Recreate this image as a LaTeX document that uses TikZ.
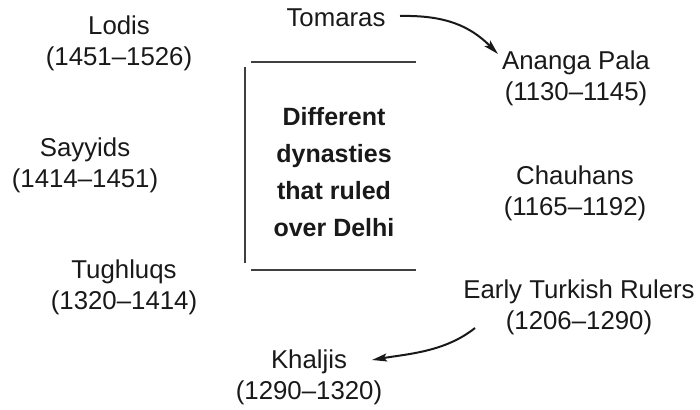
\documentclass[tikz,border=0pt]{standalone}
\usepackage{fontspec}
\setmainfont{Liberation Sans}
\usetikzlibrary{arrows.meta}
\begin{document}
\begin{tikzpicture}[x=1pt,y=-1pt,
  lbl/.style={align=center,inner sep=0pt,font=\fontsize{25.8}{31}\selectfont,text=black!90},
  title/.style={align=center,inner sep=0pt,font=\bfseries\fontsize{25}{37}\selectfont,text=black!90},
  rule/.style={line width=2.4pt,draw=black!75},
  arr/.style={line width=2pt,draw=black!90,-{Stealth[length=15pt,width=8pt,inset=3pt]}}]
\useasboundingbox (0,0) rectangle (700,409);
% dynasty labels round the centre
\node[lbl] (lodis)   at (119,43)  {Lodis\\(1451--1526)};
\node[lbl] (sayyids) at (85,165)  {Sayyids\\(1414--1451)};
\node[lbl] (tugh)    at (124,287) {Tughluqs\\(1320--1414)};
\node[lbl] (tomaras) at (336,18)  {Tomaras};
\node[lbl] (ananga)  at (576,78)  {Ananga Pala\\(1130--1145)};
\node[lbl] (chauhan) at (575,193) {Chauhans\\(1165--1192)};
\node[lbl] (turk)    at (579,307) {Early Turkish Rulers\\(1206--1290)};
\node[lbl] (khaljis) at (309,377) {Khaljis\\(1290--1320)};
% centre block
\node[title] (centre) at (334,172) {Different\\dynasties\\that ruled\\over Delhi};
\coordinate (tl) at (251,62);
\coordinate (tr) at (416,62);
\coordinate (bl) at (251,270);
\coordinate (br) at (416,270);
\coordinate (vt) at (245,67);
\coordinate (vb) at (245,263);
\draw[rule] (tl) -- (tr);
\draw[rule] (bl) -- (br);
\draw[rule] (vt) -- (vb);
% arrows
\draw[arr] ([shift={(64,-2)}]tomaras.center) .. controls +(45,-1) and +(-28,-28) .. ([shift={(-78,-24)}]ananga.center);
\draw[arr] ([shift={(-104,21)}]turk.center) .. controls +(-30,24) and +(35,-6) .. ([shift={(63,-17)}]khaljis.center);
\end{tikzpicture}
\end{document}
